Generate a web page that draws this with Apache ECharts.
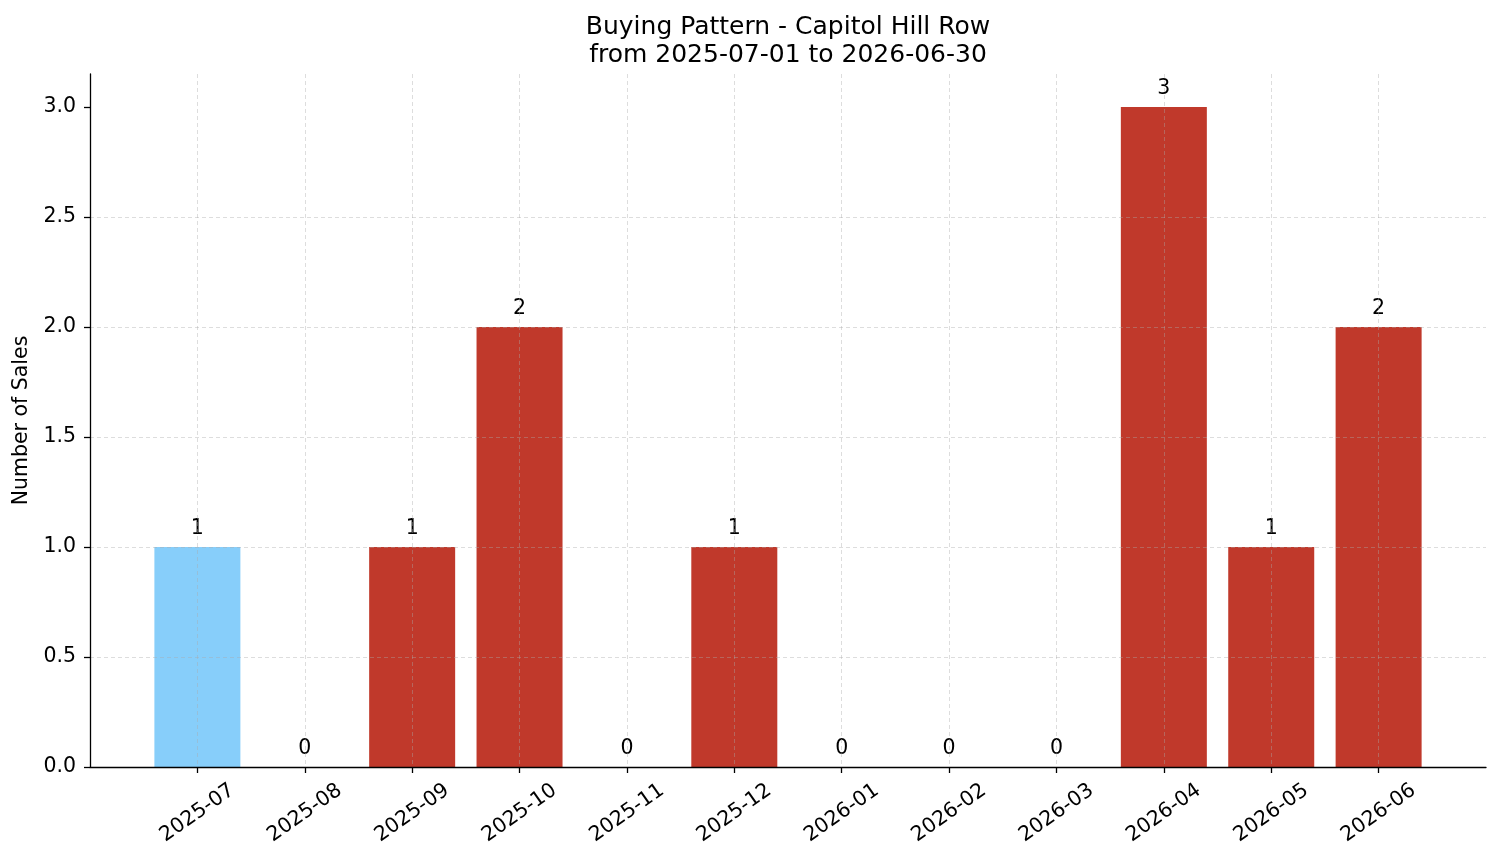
<!DOCTYPE html>
<html>
<head>
<meta charset="utf-8">
<title>Buying Pattern - Capitol Hill Row</title>
<script src="https://cdn.jsdelivr.net/npm/echarts@6/dist/echarts.min.js"></script>
<style>
  html, body { margin: 0; padding: 0; background: #fff; }
  #chart { width: 1501px; height: 863px; }
</style>
</head>
<body>
<div id="chart"></div>
<script>
// months shown on the x axis
const months = ['2025-07', '2025-08', '2025-09', '2025-10', '2025-11', '2025-12',
  '2026-01', '2026-02', '2026-03', '2026-04', '2026-05', '2026-06']
// sales per month
const sales = [1, 0, 1, 2, 0, 1, 0, 0, 0, 3, 1, 2]
const highlightMonth = '2025-07'
const yTicks = [0, 0.5, 1, 1.5, 2, 2.5, 3]

const font = 'DejaVu Sans'
const red = '#C0392B'
const blue = '#87CEFA'

// pad one empty slot on each side so the axis runs from -1 to 12 like the original
const cats = [''].concat(months, [''])
const barData = ['-'].concat(sales.map((v, i) => ({
  value: v,
  itemStyle: { color: months[i] === highlightMonth ? blue : red }
})), ['-'])
const isMonth = (idx) => idx > 0 && idx < cats.length - 1

const chart = echarts.init(document.getElementById('chart'), null, { renderer: 'canvas' })
chart.setOption({
  animation: false,
  backgroundColor: '#fff',
  title: {
    text: 'Buying Pattern - Capitol Hill Row\nfrom 2025-07-01 to 2026-06-30',
    left: 783,
    textAlign: 'center',
    top: 8,
    textStyle: { fontFamily: font, fontSize: 25, fontWeight: 'normal', color: '#000', lineHeight: 28 }
  },
  grid: { left: 90, right: 15, top: 74, bottom: 96, containLabel: false, outerBoundsMode: 'none' },
  xAxis: {
    type: 'category',
    data: cats,
    boundaryGap: false,
    axisLine: { lineStyle: { color: '#000', width: 1.3 } },
    axisTick: { show: true, interval: isMonth, length: 6, lineStyle: { color: '#000', width: 1.3 } },
    axisLabel: {
      interval: isMonth,
      rotate: 35,
      align: 'center',
      verticalAlign: 'middle',
      margin: 46,
      fontFamily: font,
      fontSize: 20.5,
      color: '#000'
    },
    splitLine: {
      show: true,
      interval: isMonth,
      lineStyle: { color: 'rgba(170,170,170,0.5)', type: [4, 3], width: 0.8 }
    }
  },
  yAxis: {
    type: 'value',
    min: 0,
    max: 3.15,
    interval: 0.5,
    name: 'Number of Sales',
    nameLocation: 'middle',
    nameGap: 56,
    nameTextStyle: { fontFamily: font, fontSize: 20.5, color: '#000' },
    axisLine: { show: true, lineStyle: { color: '#000', width: 1.3 } },
    axisTick: { show: true, customValues: yTicks, length: 6, lineStyle: { color: '#000', width: 1.3 } },
    axisLabel: {
      customValues: yTicks,
      formatter: (v) => v.toFixed(1),
      margin: 14,
      fontFamily: font,
      fontSize: 20.5,
      color: '#000'
    },
    splitLine: {
      show: true,
      showMaxLine: false,
      lineStyle: { color: 'rgba(170,170,170,0.5)', type: [4, 3], width: 0.8 }
    }
  },
  series: [{
    type: 'bar',
    data: barData,
    barWidth: 86,
    z: -1,
    label: {
      show: true,
      position: 'top',
      distance: 8,
      fontFamily: font,
      fontSize: 20.5,
      color: '#000'
    }
  }]
})
</script>
</body>
</html>
